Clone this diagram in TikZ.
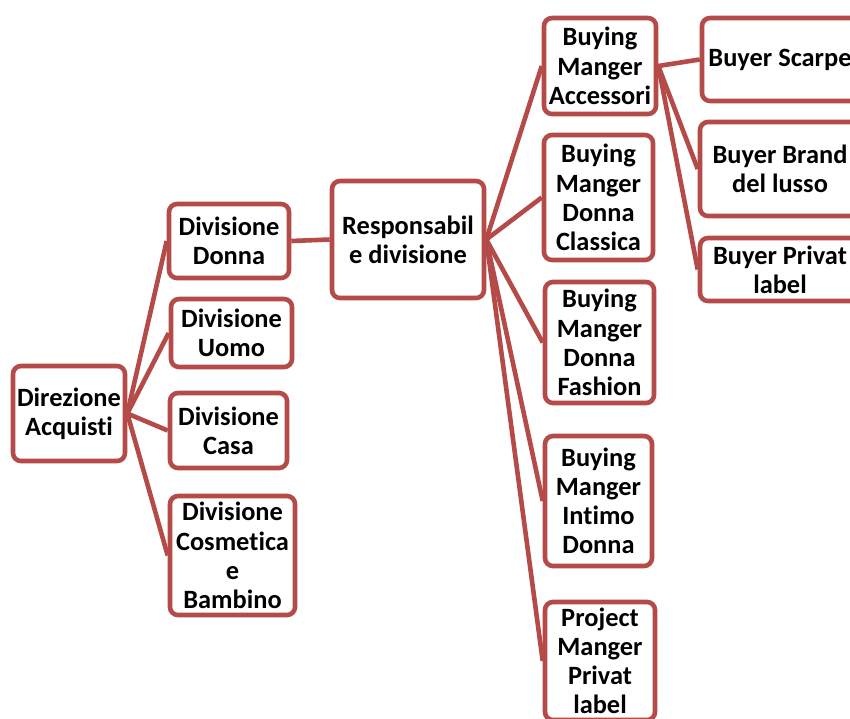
\documentclass[tikz,border=0pt]{standalone}
\usepackage{fontspec}
\setmainfont[Ligatures={NoCommon}]{Carlito}
\definecolor{boxred}{RGB}{180,75,72}

\begin{document}
\begin{tikzpicture}[x=0.5pt,y=-0.5pt,
        font=\fontsize{13.2}{14.6}\selectfont\bfseries,
        box/.style={draw=boxred,line width=2.3pt,rounded corners=4pt,fill=white,
            align=center,inner sep=0pt},
        link/.style={draw=boxred,line width=2.3pt}]
        \useasboundingbox (0,0) rectangle (850,718);

        % Level 1 and divisions
        \node[box,minimum width=56pt,minimum height=47.5pt] (dir) at (69,413.5) {Direzione\\Acquisti};
        \node[box,minimum width=60pt,minimum height=37pt] (divdonna) at (229,241) {Divisione\\Donna};
        \node[box,minimum width=60.5pt,minimum height=34pt] (divuomo) at (231.5,333) {Divisione\\Uomo};
        \node[box,minimum width=58.5pt,minimum height=37.5pt] (divcasa) at (228.5,430.5) {Divisione\\Casa};
        \node[box,minimum width=62.5pt,minimum height=59.5pt] (divcosm) at (232.5,555.5) {Divisione\\Cosmetica\\e\\Bambino};

        % Responsabile
        \node[box,minimum width=76pt,minimum height=58.5pt] (resp) at (408,239.5) {Responsabil\\e divisione};

        % Buying managers
        \node[box,minimum width=56pt,minimum height=48pt] (bmacc) at (600,66) {Buying\\Manger\\Accessori};
        \node[box,minimum width=54.5pt,minimum height=62.5pt] (bmclass) at (598.5,197.5) {Buying\\Manger\\Donna\\Classica};
        \node[box,minimum width=54.5pt,minimum height=60.5pt] (bmfash) at (599.5,342.5) {Buying\\Manger\\Donna\\Fashion};
        \node[box,minimum width=53.5pt,minimum height=65pt] (bmint) at (598.5,501) {Buying\\Manger\\Intimo\\Donna};
        \node[box,minimum width=55pt,minimum height=59pt] (pmpriv) at (600,661) {Project\\Manger\\Privat\\label};

        % Buyers
        \node[box,minimum width=78pt,minimum height=41.5pt] (bscarpe) at (780,59.5) {Buyer Scarpe};
        \node[box,minimum width=80pt,minimum height=47pt] (bbrand) at (780,169) {Buyer Brand\\del lusso};
        \node[box,minimum width=80pt,minimum height=31.5pt] (bprivat) at (780,269.5) {Buyer Privat\\label};

        % Connectors
        \foreach \c in {divdonna,divuomo,divcasa,divcosm}
            \draw[link] (dir.east) -- (\c.west);
        \draw[link] (divdonna.east) -- (resp.west);
        \foreach \c in {bmacc,bmclass,bmfash,bmint,pmpriv}
            \draw[link] (resp.east) -- (\c.west);
        \foreach \c in {bscarpe,bbrand,bprivat}
            \draw[link] (bmacc.east) -- (\c.west);
    \end{tikzpicture}
\end{document}
